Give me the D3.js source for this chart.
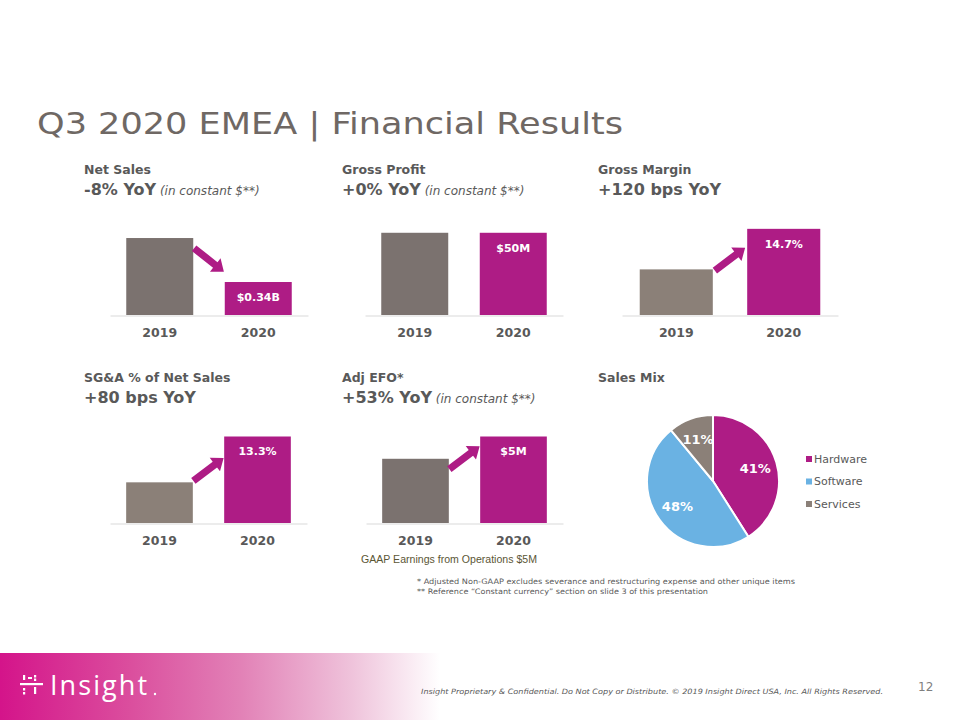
<!DOCTYPE html>
<meta charset="utf-8" />
<style>
  body { margin: 0; background: #fff; }
  svg text { font-family: "DejaVu Sans", Verdana, sans-serif; }
</style>
<body>
  <div id="slide"></div>
  <script src="https://cdn.jsdelivr.net/npm/d3@7"></script>
  <script>
    // data
    const years = ["2019", "2020"];
    const panelTitles = ["Net Sales", "Gross Profit", "Gross Margin", "SG&A % of Net Sales", "Adj EFO*"];
    const panelChanges = ["-8% YoY", "+0% YoY", "+120 bps YoY", "+80 bps YoY", "+53% YoY"];
    const panelNotes = ["(in constant $**)", "(in constant $**)", "", "", "(in constant $**)"];
    const netSales = [0.37, 0.34]; // $B
    const grossProfit = [50, 50]; // $M
    const grossMargin = [13.5, 14.7]; // %
    const sgaPct = [12.5, 13.3]; // %
    const adjEfo = [3.3, 5]; // $M
    const barLabels = ["$0.34B", "$50M", "14.7%", "13.3%", "$5M"];
    // bars on the slide do not start at zero
    const axisFloors = [0.3175, 0, 12.15, 11.79, -1.6];
    const axisCeilings = [0.3765, 52.6, 14.71, 13.3, 5];

    const mixCategories = ["Hardware", "Software", "Services"];
    const mixShares = [41, 48, 11];

    const series = [netSales, grossProfit, grossMargin, sgaPct, adjEfo];

    // where each small panel sits
    const layout = [
      { tx: 84, ty: 174, x0: 110, x1: 308, base: 315, gray: "#7b726f" },
      { tx: 342, ty: 174, x0: 365, x1: 563, base: 315, gray: "#7b726f" },
      { tx: 598, ty: 174, x0: 622, x1: 838, base: 315, gray: "#8b8078" },
      { tx: 84, ty: 382, x0: 110, x1: 307, base: 523, gray: "#8b8078" },
      { tx: 342, ty: 382, x0: 366, x1: 563, base: 523, gray: "#7b726f" },
    ];

    const magenta = "#ae1c85";
    const textGray = "#595959";

    const svg = d3.select("#slide").append("svg").attr("width", 960).attr("height", 720);

    // footer band
    const grad = svg.append("defs").append("linearGradient").attr("id", "band")
      .attr("x1", "0%").attr("x2", "100%");
    [[0, "#d4148a"], [0.3, "#db4f9e"], [0.55, "#e282b7"], [0.8, "#efc3db"], [1, "#ffffff"]].forEach((s) => {
      grad.append("stop").attr("offset", s[0]).attr("stop-color", s[1]);
    });
    svg.append("rect").attr("x", 0).attr("y", 653).attr("width", 440).attr("height", 67).attr("fill", "url(#band)");

    // title
    svg.append("text").attr("x", 37).attr("y", 134)
      .attr("font-size", "30px").attr("fill", "#6f6864")
      .attr("textLength", 586).attr("lengthAdjust", "spacingAndGlyphs")
      .text("Q3 2020 EMEA | Financial Results");

    series.forEach((vals, i) => {
      const L = layout[i];
      const g = svg.append("g");

      g.append("text").attr("x", L.tx).attr("y", L.ty)
        .attr("font-size", "12.5px").attr("font-weight", "bold").attr("fill", textGray)
        .text(panelTitles[i]);
      const sub = g.append("text").attr("x", L.tx).attr("y", L.ty + 21).attr("fill", textGray);
      sub.append("tspan").attr("font-size", "16px").attr("font-weight", "bold").text(panelChanges[i]);
      if (panelNotes[i]) {
        sub.append("tspan").attr("font-size", "12px").attr("font-style", "italic").text(" " + panelNotes[i]);
      }

      const x = d3.scaleBand().domain(years).range([L.x0, L.x1]).paddingInner(0.32).paddingOuter(0.165);
      const y = d3.scaleLinear().domain([axisFloors[i], axisCeilings[i]]).range([L.base, L.base - 86.5]);

      g.selectAll("rect.bar").data(vals).enter().append("rect")
        .attr("class", "bar")
        .attr("x", (d, j) => x(years[j]))
        .attr("width", x.bandwidth())
        .attr("y", (d) => y(d))
        .attr("height", (d) => L.base - y(d))
        .attr("fill", (d, j) => (j === 0 ? L.gray : magenta));

      g.append("text")
        .attr("x", x(years[1]) + x.bandwidth() / 2)
        .attr("y", y(vals[1]) + 15)
        .attr("dy", "0.35em")
        .attr("text-anchor", "middle")
        .attr("font-size", "11px").attr("font-weight", "bold").attr("fill", "#fff")
        .text(barLabels[i]);

      const axis = g.append("g").attr("transform", "translate(0," + (L.base + 0.5) + ")")
        .call(d3.axisBottom(x).tickSize(0).tickPadding(13));
      axis.select(".domain").attr("stroke", "#d9d9d9");
      axis.selectAll("text")
        .attr("font-family", "'DejaVu Sans', Verdana, sans-serif")
        .attr("font-size", "12.5px").attr("font-weight", "bold").attr("fill", textGray);

      // change arrow between the bars
      if (vals[0] !== vals[1]) {
        const up = vals[1] > vals[0];
        const cx = (x(years[0]) + x.bandwidth() + x(years[1])) / 2;
        const cy = (y(vals[0]) + y(vals[1])) / 2 + (up ? 10 : 0);
        const ang = Math.atan2(up ? -22 : 23, 29) * 180 / Math.PI;
        const len = 38, hl = 11, hw = 8.5, sw = 3.6;
        const pts = [[-len / 2, -sw], [len / 2 - hl, -sw], [len / 2 - hl, -hw], [len / 2, 0],
          [len / 2 - hl, hw], [len / 2 - hl, sw], [-len / 2, sw]];
        g.append("path")
          .attr("d", d3.line()(pts) + "Z")
          .attr("transform", "translate(" + cx + "," + cy + ") rotate(" + ang + ")")
          .attr("fill", magenta);
      }
    });

    // sales mix pie
    svg.append("text").attr("x", 598).attr("y", 382)
      .attr("font-size", "12.5px").attr("font-weight", "bold").attr("fill", textGray)
      .text("Sales Mix");

    const mixColor = d3.scaleOrdinal().domain(mixCategories).range([magenta, "#6ab2e3", "#8b8078"]);
    const pie = d3.pie().sort(null).value((d) => d);
    const arc = d3.arc().innerRadius(0).outerRadius(66);
    const labelArc = d3.arc().innerRadius(44).outerRadius(44);
    const pieG = svg.append("g").attr("transform", "translate(713,481)");
    const slices = pie(mixShares);
    pieG.selectAll("path").data(slices).enter().append("path")
      .attr("d", arc)
      .attr("fill", (d, i) => mixColor(mixCategories[i]))
      .attr("stroke", "#fff").attr("stroke-width", 2);
    pieG.selectAll("text").data(slices).enter().append("text")
      .attr("transform", (d) => "translate(" + labelArc.centroid(d) + ")")
      .attr("dy", "0.35em").attr("text-anchor", "middle")
      .attr("font-size", "13px").attr("font-weight", "bold").attr("fill", "#fff")
      .text((d) => d.data + "%");

    const legend = svg.append("g").selectAll("g").data(mixCategories).enter().append("g")
      .attr("transform", (d, i) => "translate(806," + (459 + i * 22.5) + ")");
    legend.append("rect").attr("x", 0).attr("y", -3).attr("width", 6).attr("height", 6)
      .attr("fill", (d) => mixColor(d));
    legend.append("text").attr("x", 8).attr("dy", "0.35em")
      .attr("font-size", "11px").attr("fill", textGray).text((d) => d);

    // notes
    svg.append("text").attr("x", 361).attr("y", 563)
      .attr("font-size", "10px").attr("fill", "#5b5635")
      .attr("textLength", 176).attr("lengthAdjust", "spacingAndGlyphs")
      .style("font-family", "'Liberation Sans', sans-serif")
      .text("GAAP Earnings from Operations $5M");
    svg.append("text").attr("x", 417).attr("y", 584)
      .attr("font-size", "7.5px").attr("fill", textGray)
      .attr("textLength", 378).attr("lengthAdjust", "spacingAndGlyphs")
      .text("*    Adjusted Non-GAAP excludes severance and restructuring  expense and other unique items");
    svg.append("text").attr("x", 417).attr("y", 594)
      .attr("font-size", "7.5px").attr("fill", textGray)
      .attr("textLength", 291).attr("lengthAdjust", "spacingAndGlyphs")
      .text("** Reference \u201CConstant currency\u201D section on slide 3 of this presentation");

    // footer
    svg.append("text").attr("x", 421).attr("y", 694)
      .attr("font-size", "7.3px").attr("font-style", "italic").attr("fill", textGray)
      .attr("textLength", 462).attr("lengthAdjust", "spacingAndGlyphs")
      .text("Insight Proprietary & Confidential. Do Not Copy or Distribute.  \u00A9 2019 Insight Direct USA, Inc. All Rights Reserved.");
    svg.append("text").attr("x", 918).attr("y", 691)
      .attr("font-size", "12px").attr("fill", "#7f7f7f").text("12");

    // logo
    const logo = svg.append("g").attr("fill", "#fff");
    [[20, 683, 23, 2.2], [23, 675, 2.2, 5], [23, 688, 2.2, 2.5], [23, 692, 2.2, 2.5],
      [34, 675, 2.2, 2.5], [34, 678.5, 2.2, 2.5], [34, 687, 2.2, 7], [28, 677, 4, 2]].forEach((r) => {
      logo.append("rect").attr("x", r[0]).attr("y", r[1]).attr("width", r[2]).attr("height", r[3]);
    });
    logo.append("text").attr("x", 50).attr("y", 695)
      .style("font-family", "'Open Sans', sans-serif").attr("font-weight", 400)
      .attr("font-size", "27px").attr("textLength", 97).attr("lengthAdjust", "spacing").text("Insight");
    logo.append("circle").attr("cx", 155).attr("cy", 694).attr("r", 1.2);
  </script>
</body>
